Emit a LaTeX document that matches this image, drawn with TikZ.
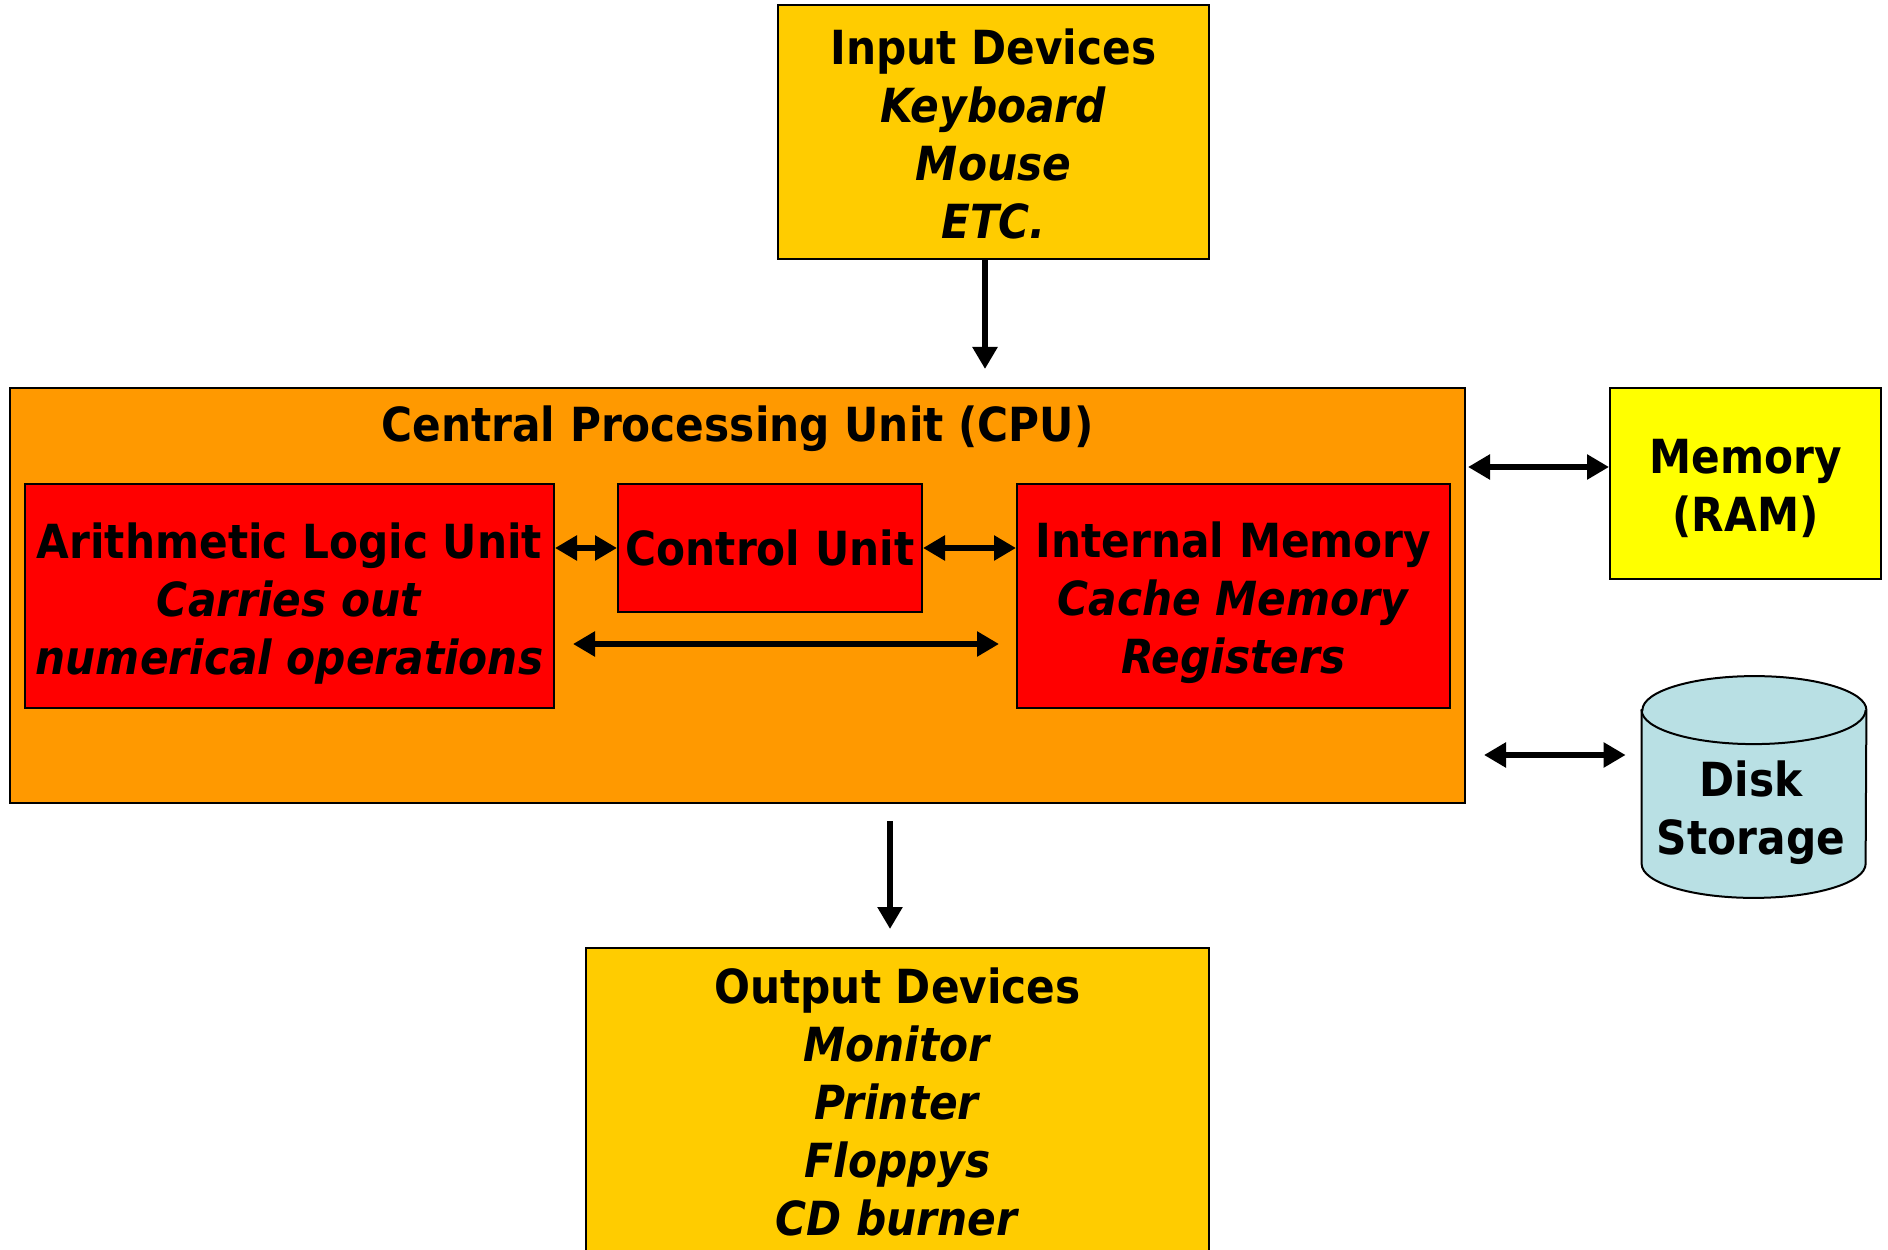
\documentclass[tikz,border=0pt]{standalone}
\usepackage{fontspec}
\setmainfont{DejaVu Sans Condensed}
\usepackage{xcolor}
\usetikzlibrary{
  arrows.meta,
  positioning,
  calc}
\definecolor{devyellow}{HTML}{FFCC00}
\definecolor{cpuorange}{HTML}{FF9900}
\definecolor{unitred}{HTML}{FF0000}
\definecolor{ramyellow}{HTML}{FFFF00}
\definecolor{diskblue}{HTML}{B9E0E4}
\tikzset{every picture/.style={font issue=\fontsize{23.5}{29}\selectfont\bfseries},
         font issue/.style={execute at begin picture={#1}},
         box/.style={draw=black, line width=1pt, inner sep=0pt, align=center},
         txt/.style={align=center, inner sep=0pt},
         devbox/.style={box, fill=devyellow},
         cpubox/.style={box, fill=cpuorange},
         unitbox/.style={box, fill=unitred},
         rambox/.style={box, fill=ramyellow},
         arr/.style={-{Triangle[length=11pt, width=12pt]}, line width=3pt},
         arrboth/.style={{Triangle[length=11pt, width=12pt]}-{Triangle[length=11pt, width=12pt]}, line width=3pt}
        }
\begin{document}
\begin{tikzpicture}[x=0.5pt, y=0.5pt]
\useasboundingbox (0,0) rectangle (1888,1249);
\node[devbox, minimum width=215.5pt, minimum height=127pt,
  label={[txt, yshift=-1.2pt]center:{Input Devices\\\textit{Keyboard}\\\textit{Mouse}\\\textit{ETC.}}}]
  (input) at (993.5,1117) {};
\node[cpubox, minimum width=727.5pt, minimum height=207.5pt] (cpu) at (737.5,653.5) {};
\node (cputitle) at ([yshift=-20.9pt]cpu.north) {Central Processing Unit (CPU)};
\node[unitbox, minimum width=264.5pt, minimum height=112pt,
  label={[txt, yshift=-3.6pt]center:{Arithmetic Logic Unit\\\textit{Carries out}\\\textit{numerical operations}}}]
  (alu) at (289.5,653) {};
\node[unitbox, minimum width=152pt, minimum height=64pt] (cu) at (770,701) {Control Unit};
\node[unitbox, minimum width=216.5pt, minimum height=112pt,
  label={[txt, yshift=-3.6pt]center:{Internal Memory\\\textit{Cache Memory}\\\textit{Registers}}}]
  (im) at (1233.5,653) {};
\node[rambox, minimum width=135.5pt, minimum height=95.5pt,
  label={[txt, yshift=-2.4pt]center:{Memory\\(RAM)}}] (ram) at (1745.5,765.5) {};
\node[devbox, minimum width=311.5pt, minimum height=153.5pt] (output) at (897.5,147.5)
  {Output Devices\\\textit{Monitor}\\\textit{Printer}\\\textit{Floppys}\\\textit{CD burner}};

% disk drawn as a cylinder round an empty node
\node[inner sep=0pt, minimum width=112pt, minimum height=110.5pt] (disk) at (1754,462) {};
\draw[fill=diskblue, line width=1pt] ([yshift=-17pt]disk.north west) -- ([yshift=17pt]disk.south west)
  arc[start angle=180, end angle=360, x radius=56pt, y radius=17pt]
  -- ([yshift=-17pt]disk.north east)
  arc[start angle=0, end angle=180, x radius=56pt, y radius=17pt] -- cycle;
\draw[line width=1pt] ([yshift=-17pt]disk.north west)
  arc[start angle=180, end angle=360, x radius=56pt, y radius=17pt];
\node[txt] (disklabel) at ([xshift=-1.5pt, yshift=-13pt]disk.center) {Disk\\Storage};

\coordinate (inbot) at ([xshift=-4.25pt]input.south);
\coordinate (outtop) at ([xshift=-3.75pt]output.north);
\coordinate (ramlink) at ([yshift=8.25pt]ram.west);
\coordinate (disklink) at ([yshift=16pt]disk.west);

\draw[arr, shorten >=9pt] (inbot) -- (inbot |- cpu.north);
\draw[arr, shorten <=8.5pt, shorten >=9pt] (outtop |- cpu.south) -- (outtop);
\draw[arrboth] (alu.east |- cu.west) -- (cu.west);
\draw[arrboth] (cu.east) -- (cu.east -| im.west);
\draw[arrboth, shorten <=9pt, shorten >=8.5pt] ([yshift=-24pt]alu.east) -- ([yshift=-24pt]im.west);
\draw[arrboth, shorten <=1pt] (cpu.east |- ramlink) -- (ramlink);
\draw[arrboth, shorten <=9pt, shorten >=8pt] (cpu.east |- disklink) -- (disklink);
\end{tikzpicture}
\end{document}
